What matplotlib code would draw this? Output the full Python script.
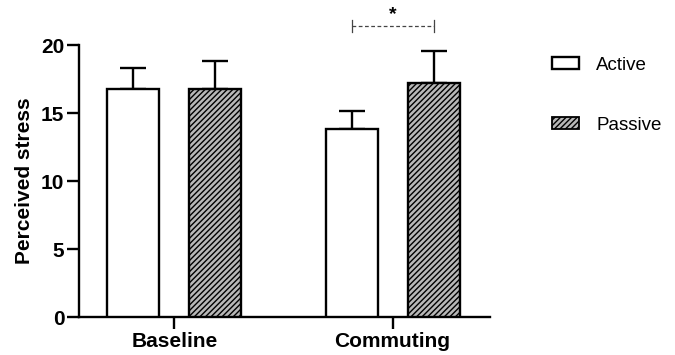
import matplotlib
matplotlib.use("Agg")
import matplotlib.pyplot as plt
from matplotlib.patches import Patch
import numpy as np

plt.rcParams['font.family'] = ['Liberation Sans', 'DejaVu Sans']
plt.rcParams['hatch.linewidth'] = 1.0

categories = ["Baseline", "Commuting"]
series = ["Active", "Passive"]
active_mean = [16.8, 13.8]
active_err = [1.5, 1.35]
passive_mean = [16.8, 17.2]
passive_err = [2.0, 2.35]
yticks = [0, 5, 10, 15, 20]

fig = plt.figure(figsize=(6.75, 3.55), dpi=100)
ax = fig.add_axes([0.117, 0.107, 0.609, 0.766])

x = np.arange(len(categories))
w = 0.2385
off = 0.188
lw = 1.7
ax.bar(x - off, active_mean, w, color='white', edgecolor='black', linewidth=lw, zorder=3)
ax.bar(x + off, passive_mean, w, color='#b8b8b8', edgecolor='black', linewidth=lw, hatch='//////', zorder=3)
ax.errorbar(x - off, active_mean, yerr=[np.zeros(2), active_err], fmt='none', ecolor='black',
            elinewidth=lw, capsize=9.5, capthick=lw, zorder=2)
ax.errorbar(x + off, passive_mean, yerr=[np.zeros(2), passive_err], fmt='none', ecolor='black',
            elinewidth=lw, capsize=9.5, capthick=lw, zorder=2)

ax.set_xlim(-0.438, 1.447)
ax.set_ylim(0, 20)
ax.set_yticks(yticks)
ax.set_yticklabels([str(t) for t in yticks], fontsize=15, fontweight='bold')
ax.set_xticks(x)
ax.set_xticklabels(categories, fontsize=15, fontweight='bold')
ax.tick_params(axis='both', width=lw, length=8.5, direction='out')
ax.tick_params(axis='y', pad=2)
ax.tick_params(axis='x', pad=2)
for s in ['top', 'right']:
    ax.spines[s].set_visible(False)
for s in ['left', 'bottom']:
    ax.spines[s].set_linewidth(lw)
ax.set_ylabel("Perceived stress", fontsize=15, fontweight='bold', labelpad=5)

# significance bracket
sig_y = 21.4
x1, x2 = 1 - off, 1 + off
ax.plot([x1, x2], [sig_y, sig_y], color='#444444', linestyle=(0, (3, 2)), linewidth=0.9, clip_on=False)
ax.plot([x1, x1], [sig_y - 0.45, sig_y + 0.45], color='#444444', linewidth=0.9, clip_on=False)
ax.plot([x2, x2], [sig_y - 0.45, sig_y + 0.45], color='#444444', linewidth=0.9, clip_on=False)
ax.text(1, sig_y + 0.2, "*", ha='center', va='bottom', fontsize=14, fontweight='bold', clip_on=False)

handles = [Patch(facecolor='white', edgecolor='black', linewidth=lw, label='Active'),
           Patch(facecolor='#b8b8b8', edgecolor='black', linewidth=1.3, hatch='//////', label='Passive')]
fig.legend(handles=handles, loc='upper left', bbox_to_anchor=(0.818, 0.84), frameon=False,
           fontsize=13.5, handlelength=1.45, handleheight=0.6, handletextpad=0.9, labelspacing=2.3,
           borderaxespad=0, borderpad=0)

fig.savefig("out.png", dpi=100)
